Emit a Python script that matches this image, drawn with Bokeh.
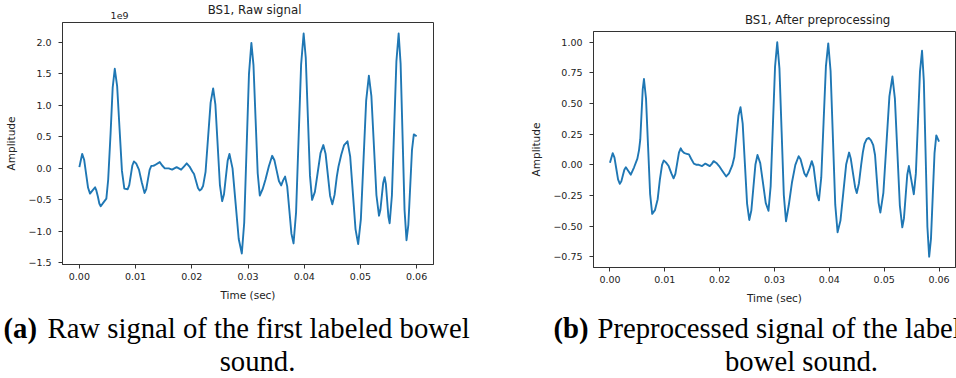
from bokeh.plotting import figure
from bokeh.models import FixedTicker, CustomJSTickFormatter, Label, Range1d
from bokeh.layouts import column, row
from bokeh.embed import file_html
from bokeh.resources import INLINE

# ---- BS1 raw recording (amplitude in units of 1e9) ----
raw_time = [0.0000, 0.00025, 0.0005, 0.00085, 0.0012, 0.00155, 0.0019, 0.00235,
            0.0028, 0.0030, 0.0033, 0.00355, 0.0038, 0.0043, 0.0048, 0.005125,
            0.00555, 0.005925, 0.0063, 0.006725, 0.00715, 0.007575, 0.0080, 0.0086,
            0.008875, 0.00915, 0.009425, 0.0097, 0.0101, 0.0106, 0.0111, 0.0116,
            0.0119, 0.0122, 0.0125, 0.0128, 0.0131, 0.0134, 0.0143, 0.0147,
            0.0152, 0.0159, 0.0165, 0.0169, 0.0173, 0.0177, 0.0181, 0.0186,
            0.0191, 0.0196, 0.0201, 0.0204, 0.02075, 0.0211, 0.0214, 0.0217,
            0.0220, 0.02245, 0.0229, 0.02335, 0.0238, 0.0242, 0.0246, 0.0250,
            0.0254, 0.02573, 0.02605, 0.02638, 0.0267, 0.02725, 0.0278, 0.02835,
            0.0289, 0.029325, 0.02975, 0.030175, 0.0306, 0.030975, 0.03135, 0.031725,
            0.0321, 0.0326, 0.0331, 0.0337, 0.0343, 0.0347, 0.0351, 0.0355,
            0.0359, 0.03625, 0.0366, 0.036975, 0.03735, 0.037725, 0.0381, 0.03855,
            0.0390, 0.03945, 0.0399, 0.040275, 0.04065, 0.041025, 0.0414, 0.0419,
            0.0424, 0.0429, 0.0434, 0.0438, 0.0442, 0.0446, 0.0450, 0.0454,
            0.0458, 0.0461, 0.0466, 0.0471, 0.0477, 0.048175, 0.04865, 0.049125,
            0.0496, 0.050075, 0.05055, 0.051025, 0.0515, 0.05195, 0.0524, 0.05285,
            0.0533, 0.05355, 0.0538, 0.05405, 0.0543, 0.054525, 0.05475, 0.054975,
            0.0552, 0.0556, 0.0560, 0.0564, 0.0568, 0.05715, 0.0575, 0.05785,
            0.0582, 0.058525, 0.05885, 0.059175, 0.0595, 0.0600]
raw_amp = [0.02, 0.125, 0.23, 0.138, -0.085, -0.308, -0.40, -0.35,
           -0.30, -0.344, -0.45, -0.556, -0.60, -0.54, -0.48, -0.18,
           0.55, 1.28, 1.58, 1.30, 0.63, -0.04, -0.32, -0.33,
           -0.266, -0.11, 0.046, 0.11, 0.08, -0.02, -0.22, -0.39,
           -0.327, -0.175, -0.023, 0.04, 0.04, 0.05, 0.10, 0.05,
           0.00, 0.00, -0.02, 0.00, 0.02, 0.00, -0.02, 0.03,
           0.08, 0.03, -0.05, -0.09, -0.20, -0.31, -0.35, -0.33,
           -0.28, -0.054, 0.495, 1.044, 1.27, 1.01, 0.375, -0.26,
           -0.52, -0.41, -0.145, 0.12, 0.23, 0.00, -0.56, -1.12,
           -1.35, -0.862, 0.32, 1.50, 1.99, 1.637, 0.78, -0.077,
           -0.43, -0.33, -0.18, 0.03, 0.20, 0.13, -0.035, -0.20,
           -0.27, -0.19, -0.13, -0.285, -0.66, -1.035, -1.19, -0.70,
           0.475, 1.65, 2.14, 1.755, 0.82, -0.115, -0.50, -0.373,
           -0.065, 0.243, 0.37, 0.233, -0.10, -0.433, -0.57, -0.42,
           -0.13, 0.03, 0.22, 0.37, 0.43, 0.192, -0.385, -0.962,
           -1.20, -0.81, 0.135, 1.08, 1.47, 1.146, 0.36, -0.426,
           -0.75, -0.66, -0.445, -0.23, -0.14, -0.247, -0.505, -0.763,
           -0.87, -0.43, 0.635, 1.70, 2.14, 1.66, 0.50, -0.66,
           -1.14, -0.895, -0.30, 0.295, 0.54, 0.51]

# ---- BS1 after preprocessing (normalised amplitude) ----
pre_time = [0.0000, 0.0005, 0.000825, 0.00115, 0.001475, 0.0018, 0.002075, 0.00235,
            0.002625, 0.0029, 0.00335, 0.0038, 0.0044, 0.0050, 0.0053, 0.005525,
            0.00575, 0.005975, 0.0062, 0.006575, 0.00695, 0.007325, 0.0077, 0.0082,
            0.0087, 0.0091, 0.0095, 0.0098, 0.0102, 0.0107, 0.0112, 0.0116,
            0.01193, 0.01225, 0.01258, 0.0129, 0.0132, 0.0136, 0.0140, 0.0144,
            0.0148, 0.0153, 0.0158, 0.0162, 0.0168, 0.0174, 0.0178, 0.0182,
            0.0186, 0.0189, 0.0194, 0.0199, 0.0205, 0.0212, 0.0217, 0.0223,
            0.022675, 0.02305, 0.023425, 0.0238, 0.0242, 0.0246, 0.0250, 0.0254,
            0.025775, 0.02615, 0.026525, 0.0269, 0.0274, 0.0279, 0.0284, 0.0289,
            0.0293, 0.0297, 0.0301, 0.0305, 0.0309, 0.0313, 0.0317, 0.0321,
            0.0326, 0.0332, 0.0338, 0.0344, 0.03475, 0.0351, 0.03545, 0.0358,
            0.0363, 0.0368, 0.03713, 0.03745, 0.03778, 0.0381, 0.038525, 0.03895,
            0.039375, 0.0398, 0.040225, 0.04065, 0.041075, 0.0415, 0.042025, 0.04255,
            0.043075, 0.0436, 0.0439, 0.0443, 0.0447, 0.0450, 0.0454, 0.0458,
            0.0461, 0.0464, 0.0468, 0.0472, 0.0476, 0.0480, 0.04833, 0.04865,
            0.04898, 0.0493, 0.04985, 0.0504, 0.05095, 0.0515, 0.05195, 0.0524,
            0.05285, 0.0533, 0.0536, 0.0539, 0.0542, 0.0545, 0.05495, 0.0554,
            0.055775, 0.05615, 0.056525, 0.0569, 0.057225, 0.05755, 0.057875, 0.0582,
            0.058525, 0.05885, 0.059175, 0.0595, 0.0600]
pre_amp = [0.016, 0.095, 0.058, -0.03, -0.118, -0.155, -0.135, -0.088,
           -0.04, -0.02, -0.05, -0.08, -0.02, 0.05, 0.12, 0.205,
           0.41, 0.615, 0.70, 0.54, 0.15, -0.24, -0.40, -0.37,
           -0.28, -0.12, 0.00, 0.035, 0.02, -0.01, -0.07, -0.11,
           -0.074, 0.012, 0.10, 0.135, 0.11, 0.095, 0.09, 0.085,
           0.05, 0.01, 0.00, 0.00, -0.01, 0.01, 0.00, -0.01,
           0.01, 0.03, 0.015, -0.01, -0.05, -0.095, -0.07, -0.005,
           0.064, 0.233, 0.40, 0.47, 0.336, 0.01, -0.316, -0.45,
           -0.373, -0.185, 0.003, 0.08, 0.014, -0.148, -0.31, -0.375,
           -0.174, 0.3125, 0.80, 1.00, 0.787, 0.27, -0.247, -0.46,
           -0.33, -0.14, 0.00, 0.07, 0.046, -0.013, -0.071, -0.095,
           -0.04, 0.03, -0.017, -0.13, -0.243, -0.29, -0.103, 0.35,
           0.803, 0.99, 0.765, 0.22, -0.325, -0.55, -0.455, -0.225,
           0.005, 0.10, 0.052, -0.065, -0.182, -0.23, -0.15, 0.00,
           0.10, 0.17, 0.21, 0.22, 0.20, 0.16, 0.08, -0.115,
           -0.31, -0.39, -0.228, 0.165, 0.558, 0.72, 0.54, 0.105,
           -0.33, -0.51, -0.437, -0.26, -0.083, -0.01, -0.125, -0.24,
           -0.07, 0.345, 0.76, 0.93, 0.685, 0.09, -0.505, -0.75,
           -0.605, -0.255, 0.095, 0.24, 0.19]

time_ticks = [0.00, 0.01, 0.02, 0.03, 0.04, 0.05, 0.06]
raw_ticks = [-1.5, -1.0, -0.5, 0.0, 0.5, 1.0, 1.5, 2.0]
pre_ticks = [-0.75, -0.50, -0.25, 0.00, 0.25, 0.50, 0.75, 1.00]

LINE_BLUE = "#1f77b4"
INK = "#222222"
SPINE = "#333333"
SANS = "DejaVu Sans"
SERIF = "Liberation Serif"


def padded(vals, frac=0.05):
    lo, hi = min(vals), max(vals)
    pad = (hi - lo) * frac
    return lo - pad, hi + pad


def fmt(digits):
    return CustomJSTickFormatter(
        code="return tick.toFixed(%d).replace('-', '\u2212');" % digits)


def text_strip(width, height):
    """A bare canvas whose data units are pixels, used for free-standing text."""
    s = figure(width=width, height=height, output_backend="svg",
               toolbar_location=None, title=None,
               x_range=Range1d(0, width), y_range=Range1d(0, height),
               x_axis_type=None, y_axis_type=None, min_border=0,
               background_fill_color="white", border_fill_color="white")
    s.outline_line_color = None
    s.xgrid.visible = False
    s.ygrid.visible = False
    return s


def panel(t, a, yticks, ydigits, width, height, left, right, top, bottom):
    p = figure(width=width, height=height, output_backend="svg",
               toolbar_location=None, title=None,
               x_range=Range1d(*padded(t)), y_range=Range1d(*padded(a)),
               min_border_left=left, min_border_right=right,
               min_border_top=top, min_border_bottom=bottom,
               background_fill_color="white", border_fill_color="white")
    p.xgrid.visible = False
    p.ygrid.visible = False
    p.outline_line_color = SPINE
    p.outline_line_width = 1
    p.outline_line_alpha = 1

    p.xaxis.ticker = FixedTicker(ticks=time_ticks)
    p.xaxis.formatter = fmt(2)
    p.yaxis.ticker = FixedTicker(ticks=yticks)
    p.yaxis.formatter = fmt(ydigits)
    p.xaxis.axis_label = "Time (sec)"
    p.yaxis.axis_label = "Amplitude"
    for ax in (p.xaxis, p.yaxis):
        ax.axis_line_color = SPINE
        ax.major_tick_line_color = SPINE
        ax.major_tick_in = 0
        ax.major_tick_out = 4
        ax.minor_tick_line_color = None
        ax.major_label_text_font = SANS
        ax.major_label_text_font_size = "9.5px"
        ax.major_label_text_color = INK
        ax.axis_label_text_font = SANS
        ax.axis_label_text_font_size = "10.5px"
        ax.axis_label_text_font_style = "normal"
        ax.axis_label_text_color = INK
    p.xaxis.major_label_standoff = 4
    p.xaxis.axis_label_standoff = 6
    p.yaxis.major_label_standoff = 7
    p.yaxis.axis_label_standoff = 8

    p.line(t, a, line_color=LINE_BLUE, line_width=1.9, line_join="round")
    return p


def title_label(x, y, txt, size="11.8px", align="center"):
    return Label(x=x, y=y, text=txt, text_font=SANS, text_font_size=size,
                 text_color=INK, text_baseline="alphabetic", text_align=align)


# ---- left panel: raw signal ----
head_raw = text_strip(478, 20)
head_raw.add_layout(title_label(247.5, 11, "BS1, Raw signal"))
head_raw.add_layout(title_label(62, 5, "1e9", size="9.5px", align="left"))
p_raw = panel(raw_time, raw_amp, raw_ticks, 1, 478, 285, 62, 45, 2, 41)

# ---- right panel: preprocessed signal ----
head_pre = text_strip(478, 29)
head_pre.add_layout(title_label(296, 10, "BS1, After preprocessing"))
p_pre = panel(pre_time, pre_amp, pre_ticks, 2, 478, 279, 115, 1, 2, 41)

# ---- sub-figure captions ----
cap = text_strip(956, 70)
CAP_SIZE = "28.7px"
captions = [
    (3, 51, "(a)", "bold"),
    (47, 51, "Raw signal of the first labeled bowel", "normal"),
    (553, 51, "(b)", "bold"),
    (597, 51, "Preprocessed signal of the labeled", "normal"),
]
for cx, cy, txt, style in captions:
    cap.add_layout(Label(x=cx, y=cy, text=txt, text_font=SERIF,
                         text_font_size=CAP_SIZE, text_font_style=style,
                         text_color="black", text_baseline="alphabetic",
                         text_align="left"))
for cx, txt in [(257, "sound."), (801, "bowel sound.")]:
    cap.add_layout(Label(x=cx, y=18, text=txt, text_font=SERIF,
                         text_font_size=CAP_SIZE, text_color="black",
                         text_baseline="alphabetic", text_align="center"))

layout = column(row(column(head_raw, p_raw), column(head_pre, p_pre)), cap)
open("out.html", "w").write(file_html(layout, INLINE))
